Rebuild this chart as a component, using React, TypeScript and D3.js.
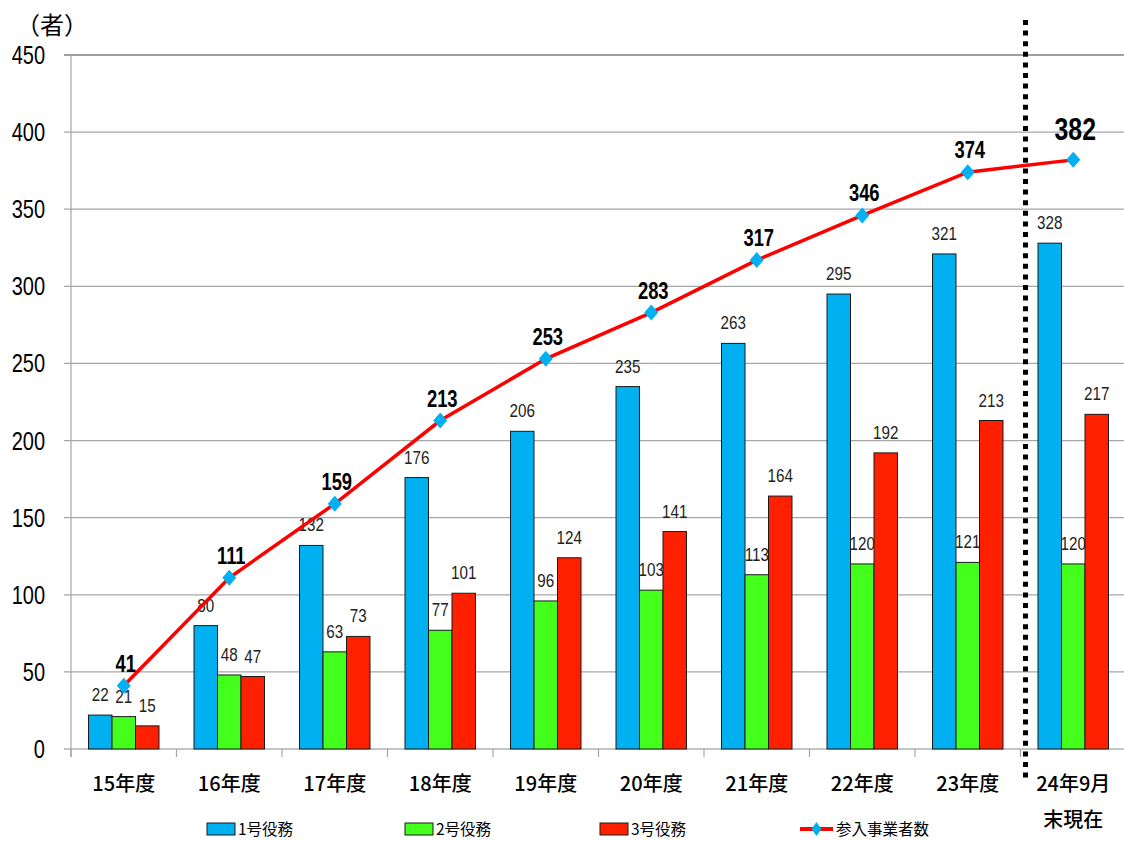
import * as d3 from "d3";

const categories = ["15年度", "16年度", "17年度", "18年度", "19年度", "20年度", "21年度", "22年度", "23年度", "24年9月\n末現在"];
const duty1 = [22, 80, 132, 176, 206, 235, 263, 295, 321, 328];
const duty2 = [21, 48, 63, 77, 96, 103, 113, 120, 121, 120];
const duty3 = [15, 47, 73, 101, 124, 141, 164, 192, 213, 217];
const entrants = [41, 111, 159, 213, 253, 283, 317, 346, 374, 382];
const yTicks = [0, 50, 100, 150, 200, 250, 300, 350, 400, 450];

const seriesNames = ["1号役務", "2号役務", "3号役務"];
const seriesColors = ["#00b0f0", "#44ff1c", "#ff2000"];
const lineName = "参入事業者数";

const W = 1124;
const H = 841;
const NUM_FONT = "'Liberation Sans', Arial, sans-serif";
const JP_FONT = "'Noto Sans CJK JP', sans-serif";

// 細めの数字（横方向に縮める）
const NText = ({
	x,
	y,
	size,
	anchor = "middle",
	bold = false,
	fill = "#000",
	children,
}: {
	x: number;
	y: number;
	size: number;
	anchor?: string;
	bold?: boolean;
	fill?: string;
	children: React.ReactNode;
}) => (
	<text
		transform={`translate(${x},${y}) scale(0.8,1)`}
		textAnchor={anchor}
		fontFamily={NUM_FONT}
		fontSize={size}
		fontWeight={bold ? "bold" : "normal"}
		fill={fill}
	>
		{children}
	</text>
);

const App = () => {
	const x = d3.scaleBand<string>().domain(categories).range([71, 1126]).padding(0);
	const xs = d3
		.scaleBand<string>()
		.domain(seriesNames)
		.range([0, x.bandwidth()])
		.paddingInner(0)
		.paddingOuter(0.745);
	const y = d3.scaleLinear().domain([0, 450]).range([749, 55]);

	const values = [duty1, duty2, duty3];
	const cx = (c: string) => (x(c) as number) + x.bandwidth() / 2;

	const line = d3
		.line<number>()
		.x((_d, i) => cx(categories[i]))
		.y((d) => y(d));

	// 区切り線（23年度と24年9月の間）
	const sepX = (x(categories[9]) as number) + 5;

	const diamond = (px: number, py: number, w = 7, h = 8) =>
		`M${px},${py - h}L${px + w},${py}L${px},${py + h}L${px - w},${py}Z`;

	const legendItems = [
		{ x: 207, label: seriesNames[0], color: seriesColors[0] },
		{ x: 405, label: seriesNames[1], color: seriesColors[1] },
		{ x: 600, label: seriesNames[2], color: seriesColors[2] },
	];

	return (
		<svg
			width={W}
			height={H}
			style={{ position: "absolute", left: 0, top: 0, background: "#fff" }}
		>
			{/* 軸ラベル */}
			<text x={16} y={34} fontFamily={JP_FONT} fontSize={24} fill="#000">
				（者）
			</text>

			{/* グリッド線と目盛 */}
			{yTicks.map((t) => (
				<g key={t}>
					<line
						x1={64}
						x2={W}
						y1={y(t)}
						y2={y(t)}
						stroke={t === 450 ? "#404040" : t === 0 ? "#8c8c8c" : "#a6a6a6"}
						strokeWidth={1.2}
					/>
					<NText x={45} y={y(t) + 9} size={25} anchor="end">
						{t}
					</NText>
				</g>
			))}
			<line x1={71} x2={71} y1={y(450)} y2={757} stroke="#a6a6a6" strokeWidth={1.2} />
			{d3.range(categories.length + 1).map((i) => {
				const tx = 71 + i * x.bandwidth();
				return <line key={i} x1={tx} x2={tx} y1={749} y2={757} stroke="#a6a6a6" strokeWidth={1.2} />;
			})}

			{/* 棒グラフ */}
			{categories.map((c, ci) => (
				<g key={c} transform={`translate(${x(c)},0)`}>
					{values.map((arr, si) => {
						const bx = xs(seriesNames[si]) as number;
						return (
							<g key={si}>
								<rect
									x={bx}
									y={y(arr[ci])}
									width={xs.bandwidth()}
									height={y(0) - y(arr[ci])}
									fill={seriesColors[si]}
									stroke="#1a1a1a"
									strokeWidth={1}
								/>
								<NText x={bx + xs.bandwidth() / 2} y={y(arr[ci]) - 14} size={19} fill="#222">
									{arr[ci]}
								</NText>
							</g>
						);
					})}
				</g>
			))}

			{/* 区切り点線 */}
			<line
				x1={sepX}
				x2={sepX}
				y1={20}
				y2={779}
				stroke="#000"
				strokeWidth={5}
				strokeDasharray="5,5.6"
			/>

			{/* 折れ線 */}
			<path d={line(entrants) ?? ""} fill="none" stroke="#ff0000" strokeWidth={3.5} />
			{entrants.map((v, i) => {
				const px = cx(categories[i]);
				const py = y(v);
				const last = i === entrants.length - 1;
				return (
					<g key={i}>
						<path d={diamond(px, py)} fill="#00b0f0" />
						<NText x={px + 2} y={last ? py - 20 : py - 14} size={last ? 31 : 23} bold>
							{v}
						</NText>
					</g>
				);
			})}

			{/* X軸ラベル */}
			{categories.map((c) => {
				const lines = c.split("\n");
				return (
					<text
						key={c}
						x={cx(c)}
						y={791}
						textAnchor="middle"
						fontFamily={JP_FONT}
						fontSize={20}
						fontWeight={500}
						fill="#000"
					>
						{lines.map((l, li) => (
							<tspan key={li} x={cx(c)} dy={li === 0 ? 0 : 36}>
								{l}
							</tspan>
						))}
					</text>
				);
			})}

			{/* 凡例 */}
			{legendItems.map((it) => (
				<g key={it.label}>
					<rect x={it.x} y={823} width={28} height={12} fill={it.color} stroke="#1a1a1a" strokeWidth={1} />
					<text x={it.x + 31} y={835} fontFamily={JP_FONT} fontSize={15.5} fill="#000">
						{it.label}
					</text>
				</g>
			))}
			<line x1={800} x2={833} y1={829} y2={829} stroke="#ff0000" strokeWidth={4} />
			<path d={diamond(816.5, 829, 5, 7)} fill="#00b0f0" />
			<text x={836} y={835} fontFamily={JP_FONT} fontSize={15.5} fill="#000">
				{lineName}
			</text>
		</svg>
	);
};

export default App;
